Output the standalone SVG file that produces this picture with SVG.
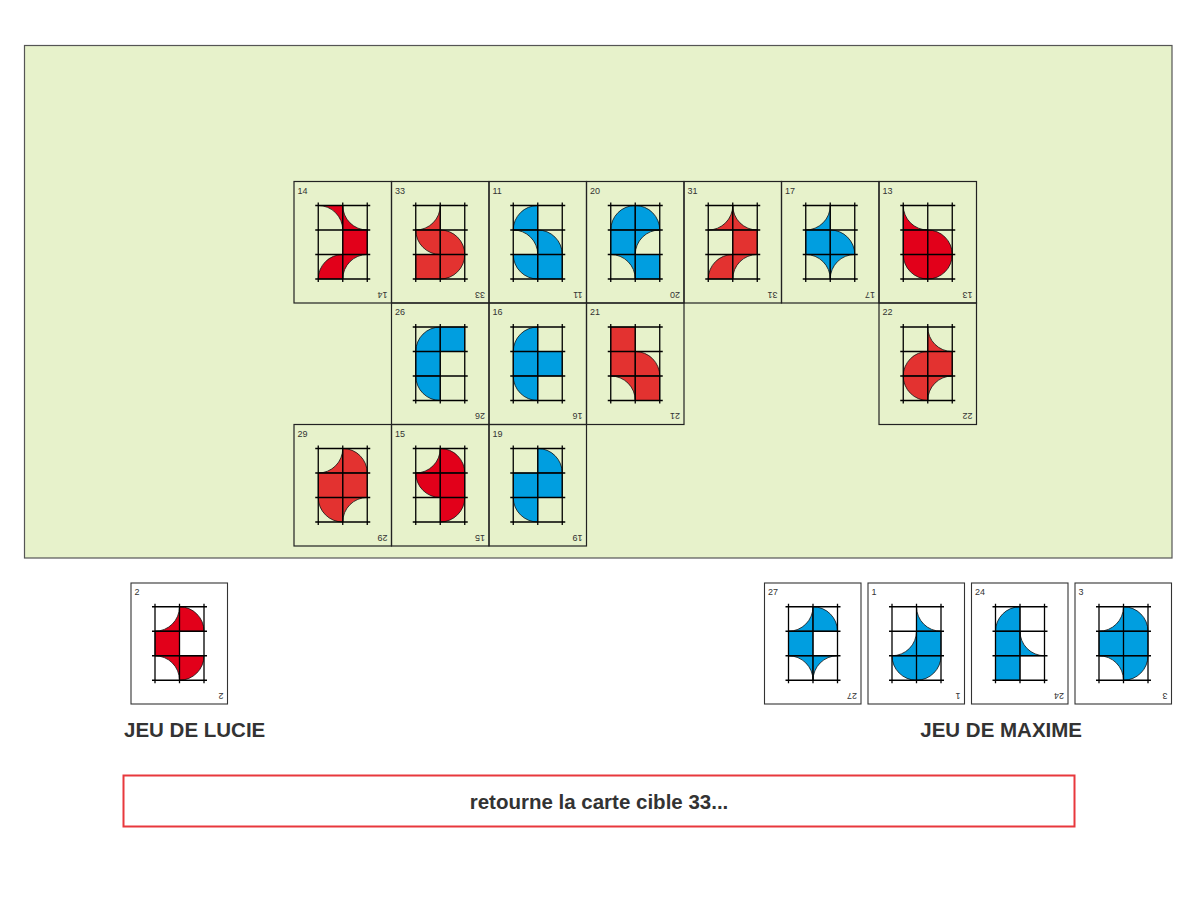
<svg xmlns="http://www.w3.org/2000/svg" xmlns:xlink="http://www.w3.org/1999/xlink" width="1200" height="900" viewBox="0 0 1200 900">
<style>
.frame{fill:none;stroke:#222;stroke-width:1.2}
.wframe{fill:#fff;stroke:#333;stroke-width:1.1}
.num{font-family:"Liberation Sans",Arial,sans-serif;font-size:9px;fill:#333}
.R{fill:#e2001a}
.r{fill:#e33230}
.b{fill:#009ee0}
.R use,.r use,.b use{stroke:#111;stroke-width:0.8}
.title{font-family:"Liberation Sans",Arial,sans-serif;font-size:20.5px;font-weight:bold;fill:#333}
</style>
<defs>
<path id="F" d="M0,0H24.5V24.5H0Z"/>
<path id="DTL" d="M0,0H24.5A24.5,24.5 0 0 1 0,24.5Z"/>
<path id="NTL" d="M24.5,24.5H0A24.5,24.5 0 0 0 24.5,0Z"/>
<path id="DTR" d="M24.5,0V24.5A24.5,24.5 0 0 1 0,0Z"/>
<path id="NTR" d="M0,24.5H24.5A24.5,24.5 0 0 1 0,0Z"/>
<path id="DBR" d="M24.5,24.5H0A24.5,24.5 0 0 1 24.5,0Z"/>
<path id="NBR" d="M0,0H24.5A24.5,24.5 0 0 0 0,24.5Z"/>
<path id="DBL" d="M0,24.5V0A24.5,24.5 0 0 1 24.5,24.5Z"/>
<path id="NBL" d="M24.5,0V24.5A24.5,24.5 0 0 0 0,0Z"/>
<g id="grid" stroke="#000" stroke-width="1.3" fill="none">
<path d="M0,-3V76.5M24.5,-3V76.5M49,-3V76.5M-3,0H52M-3,24.5H52M-3,49H52M-3,73.5H52"/>
</g>
</defs>

<rect id="board" x="24.5" y="45.5" width="1147.5" height="512.5" fill="#e7f2cb" stroke="#555" stroke-width="1.2"/>

<g id="card-14" transform="translate(294,181.5)">
<rect class="frame" width="97.5" height="121.5"/>
<text class="num" x="3.5" y="12">14</text>
<text class="num" x="93.5" y="110" transform="rotate(180 93.5 110)">14</text>
<g class="R" transform="translate(24.25,24)">
<use href="#NBL"/><use href="#NTR" x="24.5"/><use href="#F" x="24.5" y="24.5"/><use href="#DBR" y="49"/><use href="#NBR" x="24.5" y="49"/>
<use href="#grid"/></g>
</g>

<g id="card-33" transform="translate(391.5,181.5)">
<rect class="frame" width="97.5" height="121.5"/>
<text class="num" x="3.5" y="12">33</text>
<text class="num" x="93.5" y="110" transform="rotate(180 93.5 110)">33</text>
<g class="r" transform="translate(24.25,24)">
<use href="#NTL"/><use href="#DTR" y="24.5"/><use href="#DBL" x="24.5" y="24.5"/><use href="#F" y="49"/><use href="#DTL" x="24.5" y="49"/>
<use href="#grid"/></g>
</g>

<g id="card-11" transform="translate(489,181.5)">
<rect class="frame" width="97.5" height="121.5"/>
<text class="num" x="3.5" y="12">11</text>
<text class="num" x="93.5" y="110" transform="rotate(180 93.5 110)">11</text>
<g class="b" transform="translate(24.25,24)">
<use href="#DBR"/><use href="#NBL" y="24.5"/><use href="#DBL" x="24.5" y="24.5"/><use href="#DTR" y="49"/><use href="#F" x="24.5" y="49"/>
<use href="#grid"/></g>
</g>

<g id="card-20" transform="translate(586.5,181.5)">
<rect class="frame" width="97.5" height="121.5"/>
<text class="num" x="3.5" y="12">20</text>
<text class="num" x="93.5" y="110" transform="rotate(180 93.5 110)">20</text>
<g class="b" transform="translate(24.25,24)">
<use href="#DBR"/><use href="#DBL" x="24.5"/><use href="#F" y="24.5"/><use href="#NBR" x="24.5" y="24.5"/><use href="#NBL" y="49"/><use href="#F" x="24.5" y="49"/>
<use href="#grid"/></g>
</g>

<g id="card-31" transform="translate(684,181.5)">
<rect class="frame" width="97.5" height="121.5"/>
<text class="num" x="3.5" y="12">31</text>
<text class="num" x="93.5" y="110" transform="rotate(180 93.5 110)">31</text>
<g class="r" transform="translate(24.25,24)">
<use href="#NTL"/><use href="#NTR" x="24.5"/><use href="#F" x="24.5" y="24.5"/><use href="#DBR" y="49"/><use href="#NBR" x="24.5" y="49"/>
<use href="#grid"/></g>
</g>

<g id="card-17" transform="translate(781.5,181.5)">
<rect class="frame" width="97.5" height="121.5"/>
<text class="num" x="3.5" y="12">17</text>
<text class="num" x="93.5" y="110" transform="rotate(180 93.5 110)">17</text>
<g class="b" transform="translate(24.25,24)">
<use href="#NTL"/><use href="#F" y="24.5"/><use href="#DBL" x="24.5" y="24.5"/><use href="#NBL" y="49"/><use href="#NBR" x="24.5" y="49"/>
<use href="#grid"/></g>
</g>

<g id="card-13" transform="translate(879,181.5)">
<rect class="frame" width="97.5" height="121.5"/>
<text class="num" x="3.5" y="12">13</text>
<text class="num" x="93.5" y="110" transform="rotate(180 93.5 110)">13</text>
<g class="R" transform="translate(24.25,24)">
<use href="#NTR"/><use href="#F" y="24.5"/><use href="#DBL" x="24.5" y="24.5"/><use href="#DTR" y="49"/><use href="#DTL" x="24.5" y="49"/>
<use href="#grid"/></g>
</g>

<g id="card-26" transform="translate(391.5,303)">
<rect class="frame" width="97.5" height="121.5"/>
<text class="num" x="3.5" y="12">26</text>
<text class="num" x="93.5" y="110" transform="rotate(180 93.5 110)">26</text>
<g class="b" transform="translate(24.25,24)">
<use href="#DBR"/><use href="#F" x="24.5"/><use href="#F" y="24.5"/><use href="#DTR" y="49"/>
<use href="#grid"/></g>
</g>

<g id="card-16" transform="translate(489,303)">
<rect class="frame" width="97.5" height="121.5"/>
<text class="num" x="3.5" y="12">16</text>
<text class="num" x="93.5" y="110" transform="rotate(180 93.5 110)">16</text>
<g class="b" transform="translate(24.25,24)">
<use href="#DBR"/><use href="#F" y="24.5"/><use href="#F" x="24.5" y="24.5"/><use href="#DTR" y="49"/>
<use href="#grid"/></g>
</g>

<g id="card-21" transform="translate(586.5,303)">
<rect class="frame" width="97.5" height="121.5"/>
<text class="num" x="3.5" y="12">21</text>
<text class="num" x="93.5" y="110" transform="rotate(180 93.5 110)">21</text>
<g class="r" transform="translate(24.25,24)">
<use href="#F"/><use href="#F" y="24.5"/><use href="#DBL" x="24.5" y="24.5"/><use href="#NBL" y="49"/><use href="#F" x="24.5" y="49"/>
<use href="#grid"/></g>
</g>

<g id="card-22" transform="translate(879,303)">
<rect class="frame" width="97.5" height="121.5"/>
<text class="num" x="3.5" y="12">22</text>
<text class="num" x="93.5" y="110" transform="rotate(180 93.5 110)">22</text>
<g class="r" transform="translate(24.25,24)">
<use href="#NTR" x="24.5"/><use href="#DBR" y="24.5"/><use href="#F" x="24.5" y="24.5"/><use href="#DTR" y="49"/><use href="#NBR" x="24.5" y="49"/>
<use href="#grid"/></g>
</g>

<g id="card-29" transform="translate(294,424.5)">
<rect class="frame" width="97.5" height="121.5"/>
<text class="num" x="3.5" y="12">29</text>
<text class="num" x="93.5" y="110" transform="rotate(180 93.5 110)">29</text>
<g class="r" transform="translate(24.25,24)">
<use href="#NTL"/><use href="#DBL" x="24.5"/><use href="#F" y="24.5"/><use href="#F" x="24.5" y="24.5"/><use href="#DTR" y="49"/><use href="#NBR" x="24.5" y="49"/>
<use href="#grid"/></g>
</g>

<g id="card-15" transform="translate(391.5,424.5)">
<rect class="frame" width="97.5" height="121.5"/>
<text class="num" x="3.5" y="12">15</text>
<text class="num" x="93.5" y="110" transform="rotate(180 93.5 110)">15</text>
<g class="R" transform="translate(24.25,24)">
<use href="#NTL"/><use href="#DBL" x="24.5"/><use href="#DTR" y="24.5"/><use href="#F" x="24.5" y="24.5"/><use href="#DTL" x="24.5" y="49"/>
<use href="#grid"/></g>
</g>

<g id="card-19" transform="translate(489,424.5)">
<rect class="frame" width="97.5" height="121.5"/>
<text class="num" x="3.5" y="12">19</text>
<text class="num" x="93.5" y="110" transform="rotate(180 93.5 110)">19</text>
<g class="b" transform="translate(24.25,24)">
<use href="#DBL" x="24.5"/><use href="#F" y="24.5"/><use href="#F" x="24.5" y="24.5"/><use href="#DTR" y="49"/>
<use href="#grid"/></g>
</g>

<g id="card-2" transform="translate(131,583)">
<rect class="wframe" width="96.5" height="121"/>
<text class="num" x="3.5" y="12">2</text>
<text class="num" x="92.5" y="109.5" transform="rotate(180 92.5 109.5)">2</text>
<g class="R" transform="translate(24,23.75)">
<use href="#NTL"/><use href="#DBL" x="24.5"/><use href="#F" y="24.5"/><use href="#NBL" y="49"/><use href="#DTL" x="24.5" y="49"/>
<use href="#grid"/></g>
</g>

<g id="card-27" transform="translate(764.5,583)">
<rect class="wframe" width="96.5" height="121"/>
<text class="num" x="3.5" y="12">27</text>
<text class="num" x="92.5" y="109.5" transform="rotate(180 92.5 109.5)">27</text>
<g class="b" transform="translate(24,23.75)">
<use href="#NTL"/><use href="#DBL" x="24.5"/><use href="#F" y="24.5"/><use href="#NBL" y="49"/><use href="#NBR" x="24.5" y="49"/>
<use href="#grid"/></g>
</g>

<g id="card-1" transform="translate(868,583)">
<rect class="wframe" width="96.5" height="121"/>
<text class="num" x="3.5" y="12">1</text>
<text class="num" x="92.5" y="109.5" transform="rotate(180 92.5 109.5)">1</text>
<g class="b" transform="translate(24,23.75)">
<use href="#NTR" x="24.5"/><use href="#NTL" y="24.5"/><use href="#F" x="24.5" y="24.5"/><use href="#DTR" y="49"/><use href="#DTL" x="24.5" y="49"/>
<use href="#grid"/></g>
</g>

<g id="card-24" transform="translate(971.5,583)">
<rect class="wframe" width="96.5" height="121"/>
<text class="num" x="3.5" y="12">24</text>
<text class="num" x="92.5" y="109.5" transform="rotate(180 92.5 109.5)">24</text>
<g class="b" transform="translate(24,23.75)">
<use href="#DBR"/><use href="#F" y="24.5"/><use href="#NTR" x="24.5" y="24.5"/><use href="#F" y="49"/>
<use href="#grid"/></g>
</g>

<g id="card-3" transform="translate(1075,583)">
<rect class="wframe" width="96.5" height="121"/>
<text class="num" x="3.5" y="12">3</text>
<text class="num" x="92.5" y="109.5" transform="rotate(180 92.5 109.5)">3</text>
<g class="b" transform="translate(24,23.75)">
<use href="#NTL"/><use href="#DBL" x="24.5"/><use href="#F" y="24.5"/><use href="#F" x="24.5" y="24.5"/><use href="#NBL" y="49"/><use href="#DTL" x="24.5" y="49"/>
<use href="#grid"/></g>
</g>

<g id="connectors"/>

<text id="lucie" class="title" x="124" y="737">JEU DE LUCIE</text>
<text id="maxime" class="title" x="1082" y="737" text-anchor="end">JEU DE MAXIME</text>

<g id="message">
<rect x="123.5" y="775.5" width="951" height="51" fill="#fff" stroke="#e8383d" stroke-width="2"/>
<text class="title" x="599" y="809" text-anchor="middle">retourne la carte cible 33...</text>
</g>
</svg>
